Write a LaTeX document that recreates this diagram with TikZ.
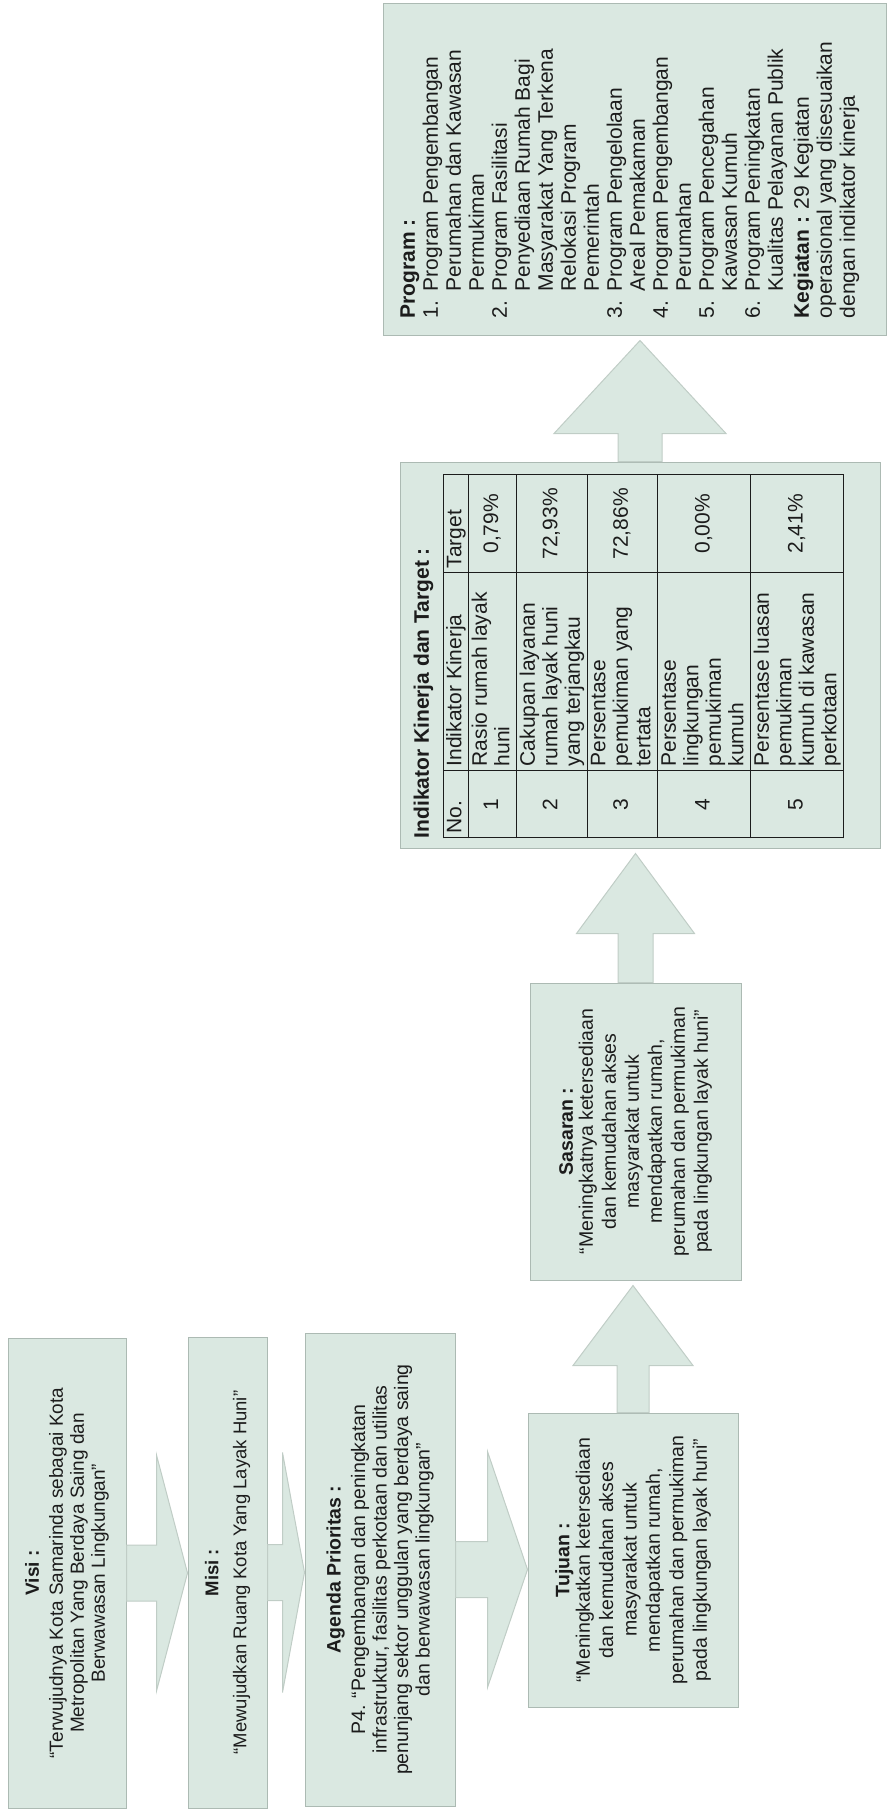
\documentclass[tikz,border=0pt]{standalone}
\usepackage{fontspec}
\setmainfont{Liberation Sans}
\usepackage{array}
\usetikzlibrary{calc}

\definecolor{boxfill}{RGB}{218,232,225}
\definecolor{boxline}{RGB}{172,186,179}
\definecolor{arrline}{RGB}{192,205,198}
\definecolor{inkcol}{RGB}{28,28,28}

\tikzset{
  box/.style={rectangle, rotate=90, fill=boxfill, draw=boxline, line width=1pt,
    inner sep=0pt, align=center, text=inkcol},
  lbl/.style={rotate=90, inner sep=0pt, text=inkcol},
  blockarr/.style={fill=boxfill, draw=arrline, line width=1pt},
}

% block arrow pointing right on the page: from, to, head length, half head
\newcommand{\arrright}[4]{%
  \coordinate (tip-#1) at (#2.north |- #1.south);
  \draw[blockarr] ($(#1.south)+(0,-28)$) -- ($(tip-#1)+(-#3,-28)$) -- ($(tip-#1)+(-#3,-#4)$)
    -- (tip-#1) -- ($(tip-#1)+(-#3,#4)$) -- ($(tip-#1)+(-#3,28)$) -- ($(#1.south)+(0,28)$) -- cycle;}

% block arrow pointing up on the page: from, to, head length, half shaft, half head
\newcommand{\arrup}[5]{%
  \coordinate (foot-#1) at (#1.east |- #2.west);
  \coordinate (tip-#1) at ($(foot-#1)+(0,5)$);
  \draw[blockarr] ($(#1.east)+(-#4,0)$) -- ($(tip-#1)+(-#4,#3)$) -- ($(tip-#1)+(-#5,#3)$)
    -- (tip-#1) -- ($(tip-#1)+(#5,#3)$) -- ($(tip-#1)+(#4,#3)$) -- ($(#1.east)+(#4,0)$) -- cycle;}

\begin{document}
\begin{tikzpicture}[x=1pt, y=-1pt]
  \useasboundingbox (0,0) rectangle (890,1815);

  % Visi, Misi, Agenda
  \node[box, minimum width=470pt, minimum height=118pt, font=\fontsize{19}{21}\selectfont] (visi) at (67,1573)
    {\textbf{Visi :}\\[3pt] ``Terwujudnya Kota Samarinda sebagai Kota\\ Metropolitan Yang Berdaya Saing dan\\ Berwawasan Lingkungan''};
  \node[box, minimum width=471pt, minimum height=79pt, font=\fontsize{18.5}{21}\selectfont] (misi) at (227.5,1572.5)
    {\textbf{Misi :}\\[7pt] ``Mewujudkan Ruang Kota Yang Layak Huni''};
  \node[box, minimum width=473pt, minimum height=150pt, font=\fontsize{19.5}{21.5}\selectfont] (agenda) at (380,1569.5)
    {\textbf{Agenda Prioritas :}\\[3pt] P4. ``Pengembangan dan peningkatan\\ infrastruktur, fasilitas perkotaan dan utilitas\\
     penunjang sektor unggulan yang berdaya saing\\ dan berwawasan lingkungan''};

  % Tujuan, Sasaran
  \node[box, minimum width=294pt, minimum height=210pt, font=\fontsize{19.5}{23.4}\selectfont] (tujuan) at (633,1560)
    {\textbf{Tujuan :}\\[-3pt] ``Meningkatkan ketersediaan\\ dan kemudahan akses\\ masyarakat untuk\\ mendapatkan rumah,\\
     perumahan dan permukiman\\ pada lingkungan layak huni''};
  \node[box, minimum width=297pt, minimum height=211pt, font=\fontsize{19.5}{23}\selectfont] (sasaran) at (635.5,1131.5)
    {\textbf{Sasaran :}\\[-3pt] ``Meningkatnya ketersediaan\\ dan kemudahan akses\\ masyarakat untuk\\ mendapatkan rumah,\\
     perumahan dan permukiman\\ pada lingkungan layak huni''};

  % Indikator kinerja
  \node[box, minimum width=386pt, minimum height=480pt] (indik) at (640,655) {};
  \node[lbl, anchor=north west, font=\fontsize{21}{23}\selectfont\bfseries] (indiktitle)
    at ($(indik.north west)+(14,-10)$) {Indikator Kinerja dan Target :};
  \node[lbl, anchor=north west, font=\fontsize{21}{22.5}\selectfont] (grid) at ($(indik.north west)+(43,-10)$) {%
    \setlength{\tabcolsep}{4pt}\setlength{\extrarowheight}{2pt}\setlength{\arrayrulewidth}{1pt}%
    \begin{tabular}{|>{\centering\arraybackslash}m{58pt}|>{\raggedright\arraybackslash}m{189pt}|>{\centering\arraybackslash}m{89pt}|}
      \hline
      \multicolumn{1}{|l|}{No.} & Indikator Kinerja & \multicolumn{1}{l|}{Target}\\ \hline
      1 & Rasio rumah layak\newline huni & 0,79\%\\ \hline
      2 & Cakupan layanan\newline rumah layak huni\newline yang terjangkau & 72,93\%\\ \hline
      3 & Persentase\newline pemukiman yang\newline tertata & 72,86\%\\ \hline
      4 & Persentase\newline lingkungan\newline pemukiman\newline kumuh & 0,00\%\\ \hline
      5 & Persentase luasan\newline pemukiman\newline kumuh di kawasan\newline perkotaan & 2,41\%\\ \hline
    \end{tabular}};

  % Program
  \node[box, minimum width=332pt, minimum height=503pt] (prog) at (634.5,169) {};
  \node[lbl, anchor=north west, font=\fontsize{21}{23}\selectfont] (progtxt) at ($(prog.north west)+(16,-17)$) {%
    \begin{tabular}{@{}p{27pt}@{}l@{}}
      \multicolumn{2}{@{}l@{}}{\textbf{Program :}}\\
      1. & Program Pengembangan\\
         & Perumahan dan Kawasan\\
         & Permukiman\\
      2. & Program Fasilitasi\\
         & Penyediaan Rumah Bagi\\
         & Masyarakat Yang Terkena\\
         & Relokasi Program\\
         & Pemerintah\\
      3. & Program Pengelolaan\\
         & Areal Pemakaman\\
      4. & Program Pengembangan\\
         & Perumahan\\
      5. & Program Pencegahan\\
         & Kawasan Kumuh\\
      6. & Program Peningkatan\\
         & Kualitas Pelayanan Publik\\[3pt]
      \multicolumn{2}{@{}l@{}}{\textbf{Kegiatan :} 29 Kegiatan}\\
      \multicolumn{2}{@{}l@{}}{operasional yang disesuaikan}\\
      \multicolumn{2}{@{}l@{}}{dengan indikator kinerja}
    \end{tabular}};

  % block arrows
  \arrright{visi}{misi}{31}{118}
  \arrright{misi}{agenda}{22}{120}
  \arrright{agenda}{tujuan}{40}{118}
  \arrup{tujuan}{sasaran}{80}{16}{60}
  \arrup{sasaran}{indik}{80}{17.5}{59}
  \arrup{indik}{prog}{93}{22}{86}

\end{tikzpicture}
\end{document}
